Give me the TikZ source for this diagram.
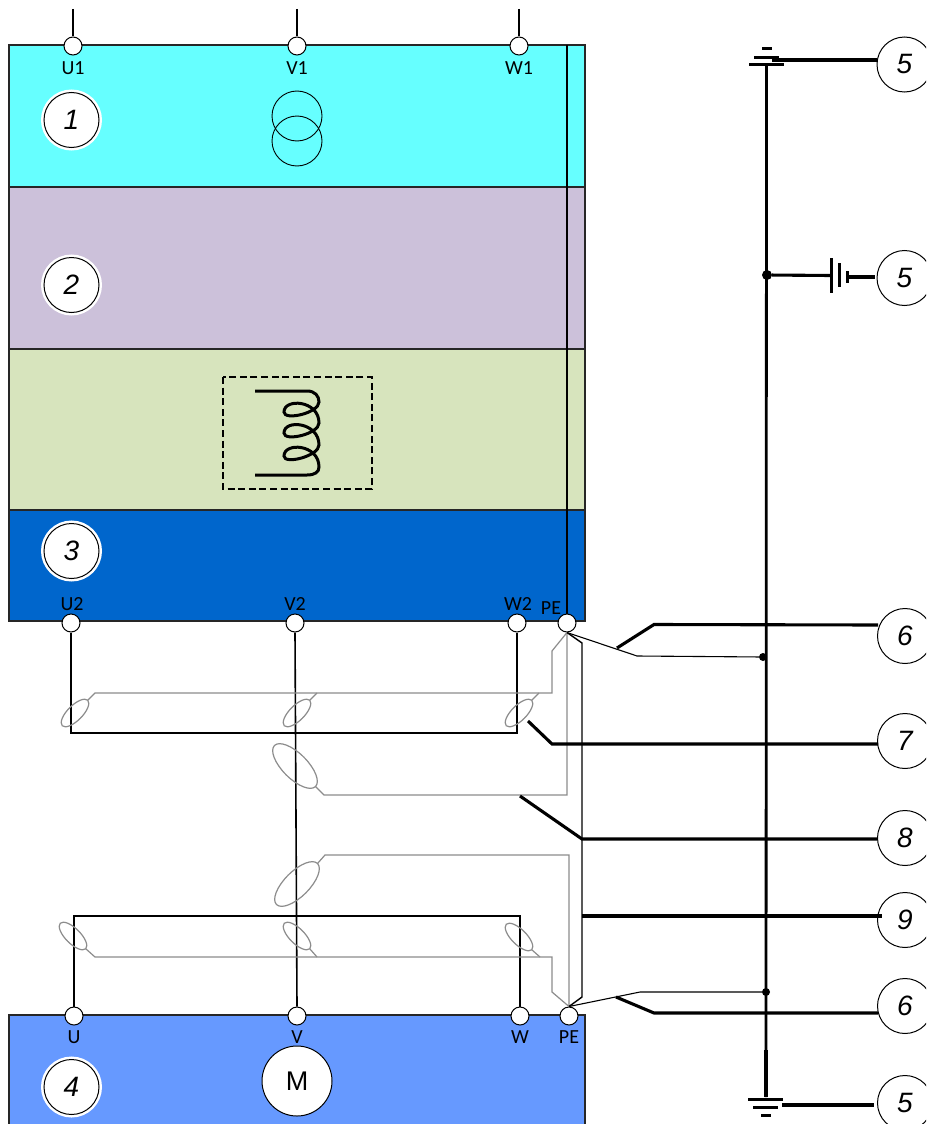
\documentclass[tikz,border=0pt]{standalone}
\usepackage{fontspec}
\usepackage{tikz}
\usetikzlibrary{shapes.geometric,calc}
\setmainfont{Liberation Sans}
\newfontfamily\termfont{Carlito}
\definecolor{blkcyan}{HTML}{66FFFF}
\definecolor{blklilac}{HTML}{CCC1DA}
\definecolor{blkgreen}{HTML}{D7E4BD}
\definecolor{blkblue}{HTML}{0066CC}
\definecolor{blkmotor}{HTML}{6699FF}
\definecolor{shieldgray}{HTML}{8C8C8C}
\tikzset{
  block/.style={rectangle, draw=black!85, line width=1.1pt, minimum width=576pt, inner sep=0pt, outer sep=0pt},
  term/.style={circle, draw=black, fill=white, line width=1pt, minimum size=18pt, inner sep=0pt},
  termlabel/.style={font=\termfont\fontsize{20}{24}\selectfont, inner sep=0pt, text=black},
  num/.style={circle, draw=black, fill=white, line width=1pt, minimum size=55pt, inner sep=0pt, font=\fontsize{28}{32}\selectfont\itshape},
  numring/.style={num, preaction={draw=white, line width=6pt}},
  clamp/.style={ellipse, draw=shieldgray, line width=1.2pt, minimum width=36pt, minimum height=15pt, inner sep=0pt, outer sep=0pt},
  bigclamp/.style={clamp, minimum width=58pt, minimum height=25pt},
  wire/.style={draw=black, line width=1.1pt},
  shield/.style={draw=shieldgray, line width=1.2pt},
  lead/.style={draw=black, line width=3.1pt},
  junction/.style={circle, fill=black, minimum size=8pt, inner sep=0pt}
}
\begin{document}
\begin{tikzpicture}[x=1pt, y=-1pt]
\clip (0,0) rectangle (926,1124);
\fill[white] (0,0) rectangle (926,1124);
% blocks
\node[block, fill=blkcyan, minimum height=142pt] (supply) at (297,116) {};
\node[block, fill=blklilac, minimum height=162pt] (filter) at (297,268) {};
\node[block, fill=blkgreen, minimum height=161pt] (choke) at (297,429.5) {};
\node[block, fill=blkblue, minimum height=111pt] (drive) at (297,565.5) {};
\node[block, fill=blkmotor, minimum height=125pt] (motor) at (297,1077.5) {};
% protective earth inside the drive
\coordinate (petop) at (567,45);
% transformer and choke
\draw[line width=0.9pt] (297,116) circle (25);
\draw[line width=0.9pt] (297,141) circle (25);
\draw[line width=2.4pt, dash pattern=on 7pt off 3.6pt] (223,377) rectangle (372,489);
\draw[line width=3pt] (255,391) -- (307,391) .. controls (315,391) and (319,396) .. (319,402)
  .. controls (319,413) and (284,421) .. (284,412) .. controls (284,398) and (319,400) .. (319,423)
  .. controls (319,434) and (284,442) .. (284,433) .. controls (284,419) and (319,422) .. (319,445)
  .. controls (319,456) and (284,465) .. (284,456) .. controls (284,442) and (319,444) .. (319,467)
  .. controls (319,472) and (315,475) .. (307,475) -- (255,475);
% terminals
\node[term] (U1) at (73,46) {};
\node[term] (V1) at (297,46) {};
\node[term] (W1) at (519,46) {};
\node[term] (U2) at (71,623) {};
\node[term] (V2) at (295,623) {};
\node[term] (W2) at (517,623) {};
\node[term] (PEd) at (567,623) {};
\node[term] (U) at (74,1016) {};
\node[term] (V) at (297,1016) {};
\node[term] (W) at (520,1016) {};
\node[term] (PEm) at (569,1016) {};
\node[termlabel] (lU1) at (73,68) {U1};
\node[termlabel] (lV1) at (297,68) {V1};
\node[termlabel] (lW1) at (519,68) {W1};
\node[termlabel] (lU2) at (72,604) {U2};
\node[termlabel] (lV2) at (295,604) {V2};
\node[termlabel] (lW2) at (518,604) {W2};
\node[termlabel] (lPEd) at (551,608) {PE};
\node[termlabel] (lU) at (74,1037) {U};
\node[termlabel] (lV) at (297,1037) {V};
\node[termlabel] (lW) at (520,1037) {W};
\node[termlabel] (lPEm) at (569,1037) {PE};
\coordinate (topU) at (73,9);
\coordinate (topV) at (297,9);
\coordinate (topW) at (519,9);
\draw[wire] (topU) -- (U1.north);
\draw[wire] (topV) -- (V1.north);
\draw[wire] (topW) -- (W1.north);
\draw[wire] (petop) -- (PEd.north);
% motor
\node[circle, draw=black, fill=white, line width=1pt, minimum size=70pt, inner sep=0pt, font=\fontsize{27}{30}\selectfont] (M) at (297,1081) {M};
% numbers
\node[numring] (n1) at (71.5,120) {1};
\node[numring] (n2) at (71.5,285) {2};
\node[numring] (n3) at (71.5,551) {3};
\node[numring] (n4) at (71.5,1087) {4};
\node[num] (n5a) at (904.5,64.5) {5};
\node[num] (n5b) at (904.5,278) {5};
\node[num] (n6a) at (905,636) {6};
\node[num] (n7) at (905,741) {7};
\node[num] (n8) at (905,838) {8};
\node[num] (n9) at (905,920) {9};
\node[num] (n6b) at (905,1006) {6};
\node[num] (n5c) at (905,1103) {5};
% motor cable conductors
\draw[wire] (U2.south) -- (71,733) -- (517,733) -- (W2.south);
\draw[wire, line width=1.6pt] (V2.south) -- (V.north);
\draw[wire] (U.north) -- (74,916) -- (520,916) -- (W.north);
% clamps on the drive side
\node[clamp, rotate=45] (cU2) at (75,713) {};
\node[clamp, rotate=45] (cV2) at (297,713) {};
\node[clamp, rotate=45] (cW2) at (519,713) {};
\node[bigclamp, rotate=-45] (cD) at (295,766) {};
% clamps on the motor side
\node[bigclamp, rotate=45] (cM) at (297,884) {};
\node[clamp, rotate=-45] (cU) at (73,936) {};
\node[clamp, rotate=-45] (cV) at (297,936) {};
\node[clamp, rotate=-45] (cW) at (519,937) {};
% shields
\draw[shield] (PEd.south) -- (552,651) -- (552,693) -- (95,693) -- (cU2.east);
\draw[shield] (317,693) -- (cV2.east);
\draw[shield] (539,693) -- (cW2.east);
\draw[shield] (cD.east) -- (324,795) -- (567,795) -- (PEd.south);
\draw[shield] (cM.east) -- (325,855) -- (569,855) -- (PEm.north);
\draw[shield] (cU.east) -- (95,957) -- (552,957) -- (552,992) -- (PEm.north);
\draw[shield] (cV.east) -- (317,957);
\draw[shield] (cW.east) -- (540,957);
% earth bus
\coordinate (bustop) at (766.5,66);
\coordinate (busbot) at (766,1097);
\node[junction, minimum size=10pt] (dotA) at (767,275) {};
\node[junction] (dotB) at (763,657) {};
\node[junction] (dotC) at (766,992) {};
\draw[line width=2.8pt] (bustop) -- (busbot);
\draw[line width=3.2pt] (bustop) -- (766.5,114);
\draw[line width=3.2pt] (766,1050) -- (busbot);
% earth symbols
\coordinate (gndtop) at (772,60);
\coordinate (gndbot) at (782,1105);
\draw[line width=3pt] (749,65) -- (784,65) (754,58) -- (779,58) (762,49) -- (772,49);
\draw[line width=3pt] (748,1099) -- (783,1099) (753,1107) -- (778,1107) (761,1115) -- (771,1115);
\draw[lead] (gndtop) -- (gndtop -| n5a.west);
\draw[lead] (gndbot) -- ($(gndbot -| n5c.west)+(-3,0)$);
% capacitor
\coordinate (capin) at (831,275.5);
\coordinate (capout) at (847,277);
\draw[lead] (dotA) -- (capin);
\draw[line width=3pt] (831,258) -- (831,293) (839,263) -- (839,287) (847,271) -- (847,283);
\draw[lead] (capout) -- ($(capout -| n5b.west)+(-2,0)$);
% PE connections
\coordinate (jA) at (617,648);
\coordinate (jB) at (616,997);
\coordinate (j7) at (528,721);
\coordinate (j8) at (520,796);
\coordinate (t8) at (582,839);
\coordinate (t9) at (582,916);
\draw[wire, line width=1.4pt] (PEd.south) -- (582,643) -- (582,997) -- (PEm.north);
\draw[wire] (PEd.south) -- (637,656) -- (dotB);
\draw[wire] (PEm.north) -- (640,992) -- (dotC);
\draw[lead] (jA) -- (654,624.5) -- (878,625);
\draw[lead] (jB) -- (654,1013) -- (878,1013);
\draw[lead] (j7) -- (552,744) -- (878,744);
\draw[lead] (j8) -- (t8) -- (t8 -| n8.west);
\draw[lead] (t9) -- ($(t9 -| n9.west)+(5,0)$);
\end{tikzpicture}
\end{document}
